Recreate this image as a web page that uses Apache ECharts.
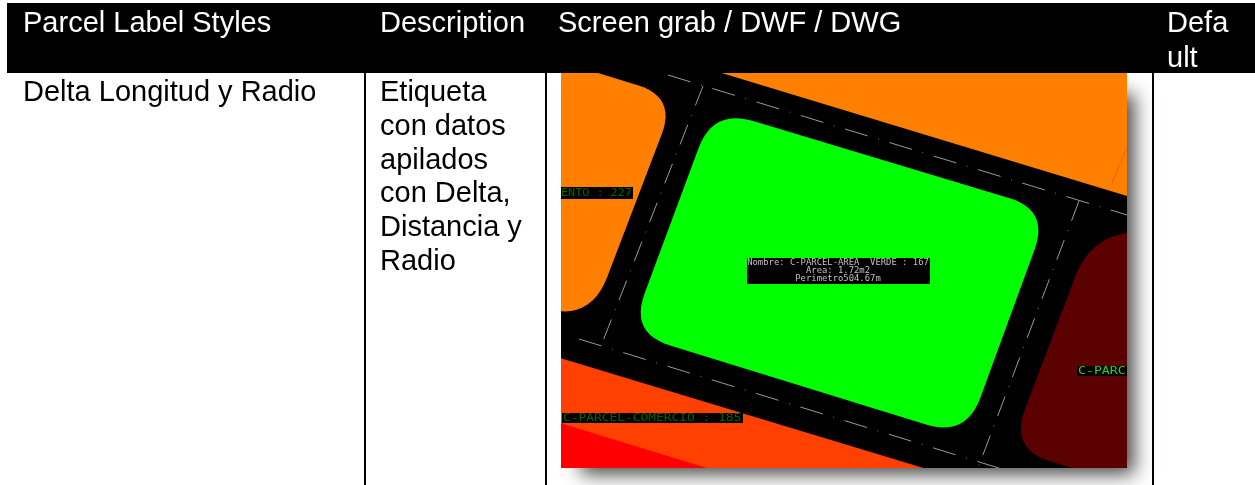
<!DOCTYPE html>
<html lang="es">
<head>
    <meta charset="UTF-8">
    <title>Parcel Label Styles</title>
    <script src="https://cdn.jsdelivr.net/npm/echarts@6/dist/echarts.min.js"></script>
</head>
<body style="margin:0;background:#fff">
<div id="chart" style="width:1255px;height:485px"></div>
<script>
    // table text: [x, y, text]
    var headerCells = [
        [23, 24, 'Parcel Label Styles'],
        [380, 24, 'Description'],
        [558, 24, 'Screen grab / DWF / DWG'],
        [1167, 24, 'Defa'],
        [1167, 59, 'ult']
    ];
    var bodyCells = [
        [23, 93, 'Delta Longitud y Radio'],
        [380, 93, 'Etiqueta'],
        [380, 127, 'con datos'],
        [380, 161, 'apilados'],
        [380, 194, 'con Delta,'],
        [380, 228, 'Distancia y'],
        [380, 262, 'Radio']
    ];
    // table blocks: [x0, y0, x1, y1]
    var headerBand = [[7, 3, 1255, 73]];
    var columnRules = [[364, 73, 366, 485], [545, 73, 547, 485], [1152, 73, 1154, 485]];
    var grabShadow = [[574, 88, 1127, 468]];

    // the screen grab, in the same units; corners are [x, y, rounding]
    var orangeTop = [[715, 71, 0], [1150, 203, 0], [1150, 60, 0], [715, 60, 0]];
    var orangeLeft = [[520, 49, 0], [676, 97, 40], [590, 322, 48], [500, 295, 0]];
    var greenArea = [[713, 109, 42], [1049, 210, 42], [966, 437, 42], [630, 333, 42]];
    var commerce = [[540, 352, 0], [940, 473, 0], [540, 473, 0]];
    var commerceRed = [[550, 420, 0], [720, 472, 0], [550, 472, 0]];
    var darkParcel = [[1092, 232, 48], [1010, 449, 42], [1160, 495, 0], [1160, 232, 0]];
    var parcels = [
        {pts: orangeTop, color: '#ff8000'},
        {pts: orangeLeft, color: '#ff8000'},
        {pts: greenArea, color: '#00ff00'},
        {pts: commerce, color: '#ff4000'},
        {pts: commerceRed, color: '#ff0000'},
        {pts: darkParcel, color: '#5a0000'}
    ];

    // road centre lines: [x1, y1, x2, y2]
    var roadsLong = [[668, 75, 1127, 215], [579, 339, 1002, 469]];
    var roadsCross = [[703, 86, 601, 346], [1079, 201, 978, 468]];
    var stray = [[1127, 147, 1112, 183]];

    // labels: [x0, y0, x1, y1] boxes, then [x, y, text]
    var labelBoxes = [
        [561, 187, 633, 199], [562, 413, 743, 423], [747, 258, 930, 284], [1077, 366, 1127, 376]
    ];
    var dimLabels = [[561, 193, 'ENTO : 227']];
    var dimLongLabels = [[563, 418, 'C-PARCEL-COMERCIO : 185']];
    var centreLabels = [
        [838, 263, 'Nombre: C-PARCEL-AREA  VERDE : 167'],
        [838, 271, 'Area: 1.72m2'],
        [838, 279, 'Perimetro504.67m']
    ];
    var brightLabels = [[1078, 371, 'C-PARC']];

    function rounded(corners) {
        var out = [];
        var n = corners.length;
        corners.forEach(function (c, i) {
            var r = c[2];
            if (!r) {
                out.push([c[0], c[1]]);
                return;
            }
            var a = corners[(i + n - 1) % n], b = corners[(i + 1) % n];
            var la = Math.hypot(a[0] - c[0], a[1] - c[1]), lb = Math.hypot(b[0] - c[0], b[1] - c[1]);
            var p0 = [c[0] + (a[0] - c[0]) * r / la, c[1] + (a[1] - c[1]) * r / la];
            var p1 = [c[0] + (b[0] - c[0]) * r / lb, c[1] + (b[1] - c[1]) * r / lb];
            for (var k = 0; k <= 12; k++) {
                var t = k / 12, u = 1 - t;
                out.push([u * u * p0[0] + 2 * u * t * c[0] + t * t * p1[0],
                    u * u * p0[1] + 2 * u * t * c[1] + t * t * p1[1]]);
            }
        });
        return out;
    }

    function rows(list) {
        return list.map(function (d, i) { return [i, 0]; });
    }

    function blockSeries(list, gridIndex, z, style) {
        return {
            type: 'custom', coordinateSystem: 'cartesian2d', xAxisIndex: gridIndex, yAxisIndex: gridIndex,
            z: z, clip: true, silent: true, data: rows(list),
            renderItem: function (params, api) {
                var d = list[params.dataIndex];
                var a = api.coord([d[0], d[1]]), b = api.coord([d[2], d[3]]);
                return {type: 'rect', shape: {x: a[0], y: a[1], width: b[0] - a[0], height: b[1] - a[1]}, style: style};
            }
        };
    }

    function textSeries(list, gridIndex, z, font, fill, align, scaleX) {
        return {
            type: 'custom', coordinateSystem: 'cartesian2d', xAxisIndex: gridIndex, yAxisIndex: gridIndex,
            z: z, clip: true, silent: true, data: rows(list),
            renderItem: function (params, api) {
                var d = list[params.dataIndex];
                var p = api.coord([d[0], d[1]]);
                return {
                    type: 'text', x: p[0], y: p[1], scaleX: scaleX || 1,
                    style: {text: d[2], font: font, fill: fill, textAlign: align, textVerticalAlign: 'middle'}
                };
            }
        };
    }

    function lineSeries(list, z, style) {
        return {
            type: 'custom', coordinateSystem: 'cartesian2d', xAxisIndex: 1, yAxisIndex: 1,
            z: z, clip: true, silent: true, data: rows(list),
            renderItem: function (params, api) {
                var d = list[params.dataIndex];
                var a = api.coord([d[0], d[1]]), b = api.coord([d[2], d[3]]);
                return {type: 'line', shape: {x1: a[0], y1: a[1], x2: b[0], y2: b[1]}, style: style};
            }
        };
    }

    var tableFont = '29px "Liberation Sans", Arial, sans-serif';
    var myChart = echarts.init(document.getElementById('chart'));
    var option = {
        animation: false,
        grid: [
            {left: 0, top: 0, width: 1255, height: 485, containLabel: false},
            {left: 561, top: 73, width: 566, height: 395, show: true, backgroundColor: '#000', borderWidth: 0, z: 3}
        ],
        xAxis: [
            {type: 'value', gridIndex: 0, min: 0, max: 1255, show: false},
            {type: 'value', gridIndex: 1, min: 561, max: 1127, show: false}
        ],
        yAxis: [
            {type: 'value', gridIndex: 0, min: 0, max: 485, inverse: true, show: false},
            {type: 'value', gridIndex: 1, min: 73, max: 468, inverse: true, show: false}
        ],
        series: [
            blockSeries(grabShadow, 0, 1, {fill: '#777', shadowBlur: 18, shadowColor: '#444', shadowOffsetX: 7, shadowOffsetY: 6}),
            blockSeries(columnRules, 0, 2, {fill: '#000'}),
            blockSeries(headerBand, 0, 2, {fill: '#000'}),
            textSeries(headerCells, 0, 6, tableFont, '#fff', 'left'),
            textSeries(bodyCells, 0, 6, tableFont, '#000', 'left'),
            {
                type: 'custom', coordinateSystem: 'cartesian2d', xAxisIndex: 1, yAxisIndex: 1,
                z: 4, clip: true, silent: true, data: rows(parcels),
                renderItem: function (params, api) {
                    var p = parcels[params.dataIndex];
                    return {
                        type: 'polygon',
                        shape: {points: rounded(p.pts).map(function (q) { return api.coord(q); })},
                        style: {fill: p.color}
                    };
                }
            },
            lineSeries(roadsLong, 5, {stroke: '#aaa', lineWidth: 0.9, lineDash: [23.5, 11, 0.8, 11]}),
            lineSeries(roadsCross, 5, {stroke: '#aaa', lineWidth: 0.9, lineDash: [21, 10, 0.8, 10]}),
            lineSeries(stray, 5, {stroke: '#ff5a00', lineWidth: 1}),
            blockSeries(labelBoxes, 1, 5, {fill: '#000'}),
            textSeries(dimLabels, 1, 6, '11px "DejaVu Sans Mono", monospace', '#006400', 'left', 1.07),
            textSeries(dimLongLabels, 1, 6, '11px "DejaVu Sans Mono", monospace', '#006400', 'left', 1.17),
            textSeries(centreLabels, 1, 6, '8.9px "DejaVu Sans Mono", monospace', '#c0c0c0', 'center'),
            textSeries(brightLabels, 1, 6, '11px "DejaVu Sans Mono", monospace', '#33cc33', 'left', 1.2)
        ]
    };
    myChart.setOption(option);
</script>
</body>
</html>
